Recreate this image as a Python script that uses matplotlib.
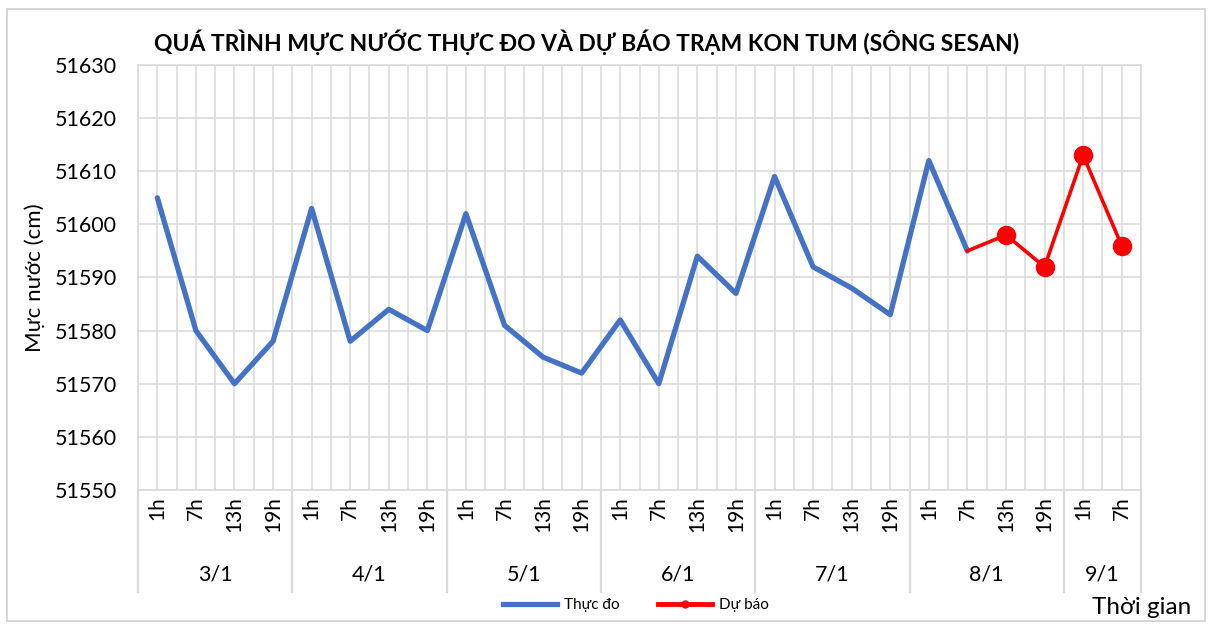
import matplotlib
matplotlib.use("Agg")
import matplotlib.pyplot as plt
from matplotlib.lines import Line2D
from matplotlib.patches import Rectangle
import numpy as np

plt.rcParams['font.family'] = ['Lato', 'DejaVu Sans']

days = ["3/1", "4/1", "5/1", "6/1", "7/1", "8/1", "9/1"]
hours_per_day = [["1h", "7h", "13h", "19h"]] * 6 + [["1h", "7h"]]
observed = [51605, 51580, 51570, 51578,
            51603, 51578, 51584, 51580,
            51602, 51581, 51575, 51572,
            51582, 51570, 51594, 51587,
            51609, 51592, 51588, 51583,
            51612, 51595]
forecast = [51595, 51598, 51592, 51613, 51596]
forecast_start = 21
y_ticks = list(range(51550, 51631, 10))

hour_labels = [h for hs in hours_per_day for h in hs]
n = len(hour_labels)

fig = plt.figure(figsize=(12.12, 6.26), dpi=100)
fig.patches.append(Rectangle((0.006, 0.008), 0.988, 0.978, transform=fig.transFigure,
                             fill=False, edgecolor='#d0d0d0', linewidth=1.2))
ax = fig.add_axes([0.1139, 0.2173, 0.8275, 0.6789])

grid_c = '#d9d9d9'
ax.set_xlim(-0.5, n - 0.5)
ax.set_ylim(51550, 51630)
ax.set_yticks(y_ticks)
ax.set_yticklabels([str(v) for v in y_ticks], fontsize=15.5)
ax.set_xticks(np.arange(-0.5, n, 0.5))
ax.set_xticklabels([])
ax.tick_params(axis='x', length=0)
ax.tick_params(axis='y', length=0, pad=15)
ax.grid(True, color=grid_c, linewidth=1.1)
ax.set_axisbelow(True)
for s in ax.spines.values():
    s.set_color(grid_c)
    s.set_linewidth(1.1)

x_obs = np.arange(len(observed))
x_fc = np.arange(forecast_start, forecast_start + len(forecast))
ax.plot(x_obs, observed, color='#4472c4', linewidth=3.8, solid_joinstyle='round',
        solid_capstyle='round', label='Thực đo', zorder=3)
ax.plot(x_fc, forecast, color='#ff0000', linewidth=2.6, label='Dự báo', zorder=4)
ax.plot(x_fc[1:], forecast[1:], 'o', color='#ff0000', markersize=13, zorder=5)

tr = ax.get_xaxis_transform()
for i, h in enumerate(hour_labels):
    ax.text(i, -0.014, h, rotation=90, ha='center', va='top', fontsize=15, transform=tr)
start = 0
bounds = [-0.5]
for d, hs in zip(days, hours_per_day):
    end = start + len(hs)
    ax.text((start + end - 1) / 2, -0.20, d, ha='center', va='center', fontsize=15.5, transform=tr)
    bounds.append(end - 0.5)
    start = end
for b in bounds:
    ax.plot([b, b], [0, -0.24], color=grid_c, linewidth=1.6, transform=tr, clip_on=False)

ax.set_ylabel('Mực nước (cm)', fontsize=16, labelpad=7)

fig.text(0.484, 0.932, 'QUÁ TRÌNH MỰC NƯỚC THỰC ĐO VÀ DỰ BÁO TRẠM KON TUM (SÔNG SESAN)',
         ha='center', va='center', fontsize=16.5, fontweight='bold')

handles = [Line2D([0], [0], color='#4472c4', linewidth=3.8),
           Line2D([0], [0], color='#ff0000', linewidth=3.5, marker='o', markersize=5)]
fig.legend(handles, ['Thực đo', 'Dự báo'], loc='center', bbox_to_anchor=(0.525, 0.033),
           ncol=2, frameon=False, fontsize=11, handlelength=3.5, handletextpad=0.5,
           columnspacing=2.5)
fig.text(0.983, 0.03, 'Thời gian', ha='right', va='center', fontsize=17.5)

fig.savefig('out.png', dpi=100)
